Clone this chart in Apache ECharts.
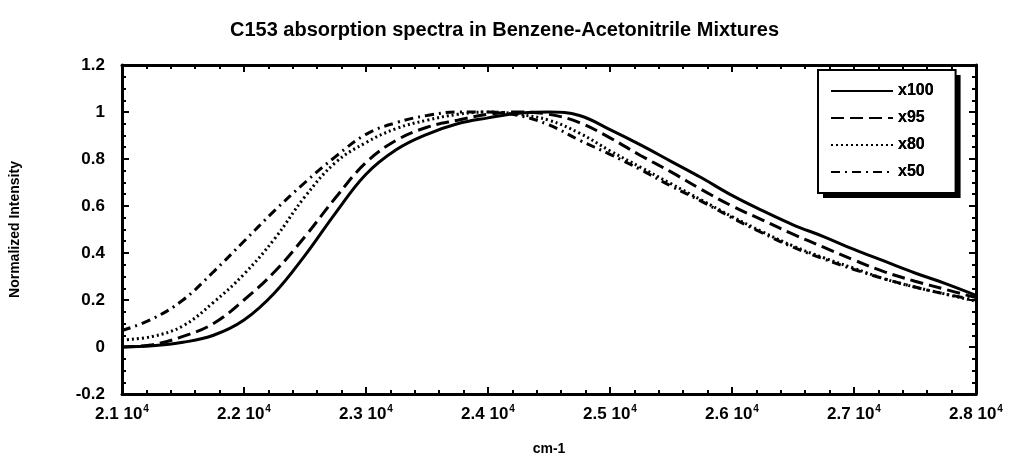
<!DOCTYPE html>
<html>
<head>
<meta charset="utf-8">
<script src="https://cdn.jsdelivr.net/npm/echarts@6/dist/echarts.min.js"></script>
<style>html,body{margin:0;padding:0;background:#fff;}#c{width:1009px;height:461px;}</style>
</head>
<body>
<div id="c"></div>
<script>
const wavenumbers = [21000,21250,21500,21750,22000,22250,22500,22750,23000,23250,23500,23750,24000,24250,24500,24750,25000,25250,25500,25750,26000,26250,26500,26750,27000,27250,27500,27750,28000];
const x100 = [0.0,0.005,0.02,0.05,0.115,0.23,0.39,0.57,0.735,0.84,0.905,0.95,0.975,0.995,1.0,0.985,0.925,0.86,0.79,0.72,0.645,0.58,0.52,0.47,0.415,0.365,0.315,0.27,0.22];
const x95 = [0.0,0.01,0.045,0.10,0.20,0.32,0.47,0.635,0.785,0.88,0.935,0.965,0.99,1.0,0.99,0.955,0.89,0.815,0.745,0.67,0.60,0.54,0.48,0.425,0.37,0.32,0.28,0.245,0.21];
const x80 = [0.03,0.045,0.09,0.19,0.31,0.46,0.64,0.785,0.87,0.93,0.965,0.99,1.0,0.99,0.965,0.91,0.835,0.765,0.695,0.625,0.555,0.49,0.43,0.38,0.335,0.29,0.255,0.225,0.195];
const x50 = [0.07,0.12,0.2,0.32,0.45,0.58,0.70,0.81,0.905,0.955,0.985,1.0,1.0,0.985,0.945,0.88,0.82,0.755,0.685,0.62,0.55,0.485,0.425,0.375,0.33,0.29,0.255,0.225,0.2];
const seriesNames = ['x100','x95','x80','x50'];
const xTickMantissa = ['2.1','2.2','2.3','2.4','2.5','2.6','2.7','2.8'];

const FONT = '"Liberation Sans", Arial, sans-serif';
function pairs(ys){ return wavenumbers.map((w,i)=>[w, ys[i]]); }
const dashes = ['solid', [13,6], [2,3], [9,5,2,5]];
const allData = [x100, x95, x80, x50];

const chart = echarts.init(document.getElementById('c'));
const axisLineStyle = {color:'#000', width:3};
const tickStyle = {color:'#000', width:2};
const legendBase = {orient:'vertical', left:818, top:70, padding:[13,22,13,12], itemGap:11, itemWidth:62, itemHeight:14,
    itemStyle:{opacity:0},
    textStyle:{fontFamily:FONT, fontWeight:'bold', fontSize:16, color:'#000'},
    data:seriesNames};
chart.setOption({
  backgroundColor:'#fff',
  animation:false,
  title:{text:'C153 absorption spectra in Benzene-Acetonitrile Mixtures', left:'center', top:15,
    textStyle:{fontFamily:FONT, fontWeight:'bold', fontSize:20, color:'#000'}},
  grid:{left:122, right:33, top:65, bottom:67},
  legend:[
    Object.assign({}, legendBase, {z:4, backgroundColor:'#fff', borderWidth:0,
      shadowColor:'#000', shadowBlur:0, shadowOffsetX:5, shadowOffsetY:5}),
    Object.assign({}, legendBase, {z:5, backgroundColor:'rgba(0,0,0,0)', borderColor:'#000', borderWidth:2})
  ],
  xAxis:[{type:'value', min:21000, max:28000, interval:1000, position:'bottom',
    name:'cm-1', nameLocation:'middle', nameGap:48,
    nameTextStyle:{fontFamily:FONT, fontWeight:'bold', fontSize:14, color:'#000'},
    axisLine:{onZero:false, lineStyle:axisLineStyle}, splitLine:{show:false},
    axisTick:{inside:true, length:7, lineStyle:tickStyle},
    minorTick:{show:true, splitNumber:5, length:4, lineStyle:tickStyle},
    axisLabel:{margin:10, color:'#000',
      formatter:function(v){ const i=Math.round((v-21000)/1000); return '{a|'+xTickMantissa[i]+' 10}{s|4}'; },
      rich:{a:{fontFamily:FONT, fontWeight:'bold', fontSize:17, color:'#000'},
            s:{fontFamily:FONT, fontWeight:'bold', fontSize:10, color:'#000', padding:[0,0,10,1]}}}},
   {type:'value', min:21000, max:28000, interval:1000, position:'top',
    axisLine:{onZero:false, lineStyle:axisLineStyle}, splitLine:{show:false},
    axisTick:{inside:true, length:7, lineStyle:tickStyle},
    minorTick:{show:true, splitNumber:5, length:4, lineStyle:tickStyle},
    axisLabel:{show:false}}],
  yAxis:[{type:'value', min:-0.2, max:1.2, interval:0.2, position:'left',
    name:'Normalized Intensity', nameLocation:'middle', nameGap:100,
    nameTextStyle:{fontFamily:FONT, fontWeight:'bold', fontSize:14, color:'#000'},
    axisLine:{onZero:false, lineStyle:axisLineStyle}, splitLine:{show:false},
    axisTick:{inside:true, length:7, lineStyle:tickStyle},
    minorTick:{show:true, splitNumber:4, length:4, lineStyle:tickStyle},
    axisLabel:{margin:17, color:'#000', fontFamily:FONT, fontWeight:'bold', fontSize:17,
      formatter:function(v){ return String(+v.toFixed(1)); }}},
   {type:'value', min:-0.2, max:1.2, interval:0.2, position:'right',
    axisLine:{onZero:false, lineStyle:axisLineStyle}, splitLine:{show:false},
    axisTick:{inside:true, length:7, lineStyle:tickStyle},
    minorTick:{show:true, splitNumber:4, length:4, lineStyle:tickStyle},
    axisLabel:{show:false}}],
  series: seriesNames.map((n,i)=>({
    name:n, type:'line', xAxisIndex:0, yAxisIndex:0, smooth:0.4, showSymbol:false, symbol:'none',
    data:pairs(allData[i]), color:'#000',
    lineStyle:{color:'#000', width:3, type:dashes[i]}
  }))
});
</script>
</body>
</html>
